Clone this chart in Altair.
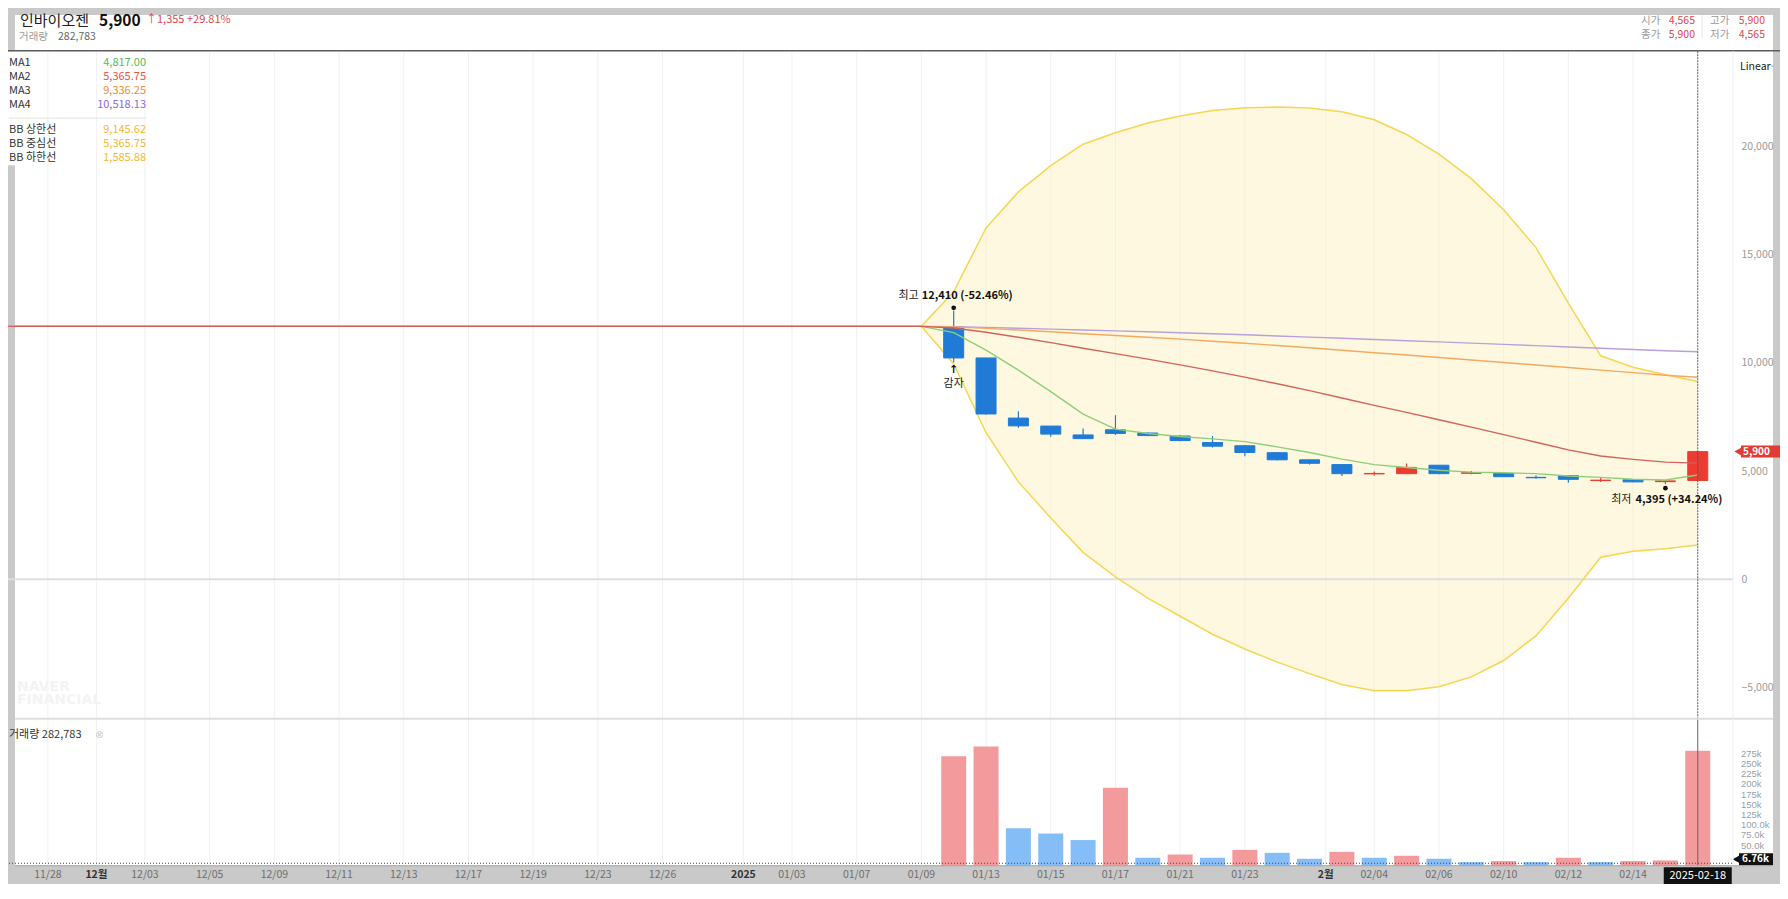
import altair as alt
import pandas as pd

FONT = "Noto Sans CJK KR"
RED = "#ec3b30"
BLUE = "#1f7bd6"
VRED = "#f39a9c"
VBLUE = "#85bdf6"

# ---------------- data ----------------
stock_name = "인바이오젠"
last_price = "5,900"
change_text = "↑1,355 +29.81%"
volume_text = "282,783"
ohlc_labels = [["시가", "4,565", "고가", "5,900"], ["종가", "5,900", "저가", "4,565"]]

FLAT = 11690                       # price level during the trading halt
halt_days = list(range(-2, 28))    # trading-day index of halted days
trade_days = list(range(28, 52))   # 01/10 .. 02/18
trade_dates = ["01/10", "01/13", "01/14", "01/15", "01/16", "01/17", "01/20", "01/21",
               "01/22", "01/23", "01/24", "01/31", "02/03", "02/04", "02/05", "02/06",
               "02/07", "02/10", "02/11", "02/12", "02/13", "02/14", "02/17", "02/18"]
opens = [11670, 10230, 7450, 7080, 6670, 6910, 6760, 6620, 6320, 6170, 5850, 5520,
         5300, 4870, 4880, 5270, 4900, 4890, 4710, 4790, 4560, 4600, 4510, 4565]
closes = [10230, 7640, 7090, 6710, 6500, 6740, 6640, 6410, 6150, 5860, 5520, 5360,
          4880, 4890, 5170, 4880, 4920, 4740, 4690, 4620, 4580, 4500, 4545, 5900]
highs = [12410, 10230, 7760, 7080, 6970, 7580, 6780, 6670, 6620, 6210, 5880, 5520,
         5300, 4980, 5350, 5270, 5000, 4890, 4800, 4790, 4710, 4600, 4580, 5900]
lows = [10030, 7600, 7000, 6590, 6490, 6670, 6620, 6380, 6090, 5680, 5500, 5300,
        4770, 4800, 4880, 4850, 4850, 4740, 4650, 4460, 4500, 4480, 4395, 4565]
volumes = [269000, 293000, 92600, 79600, 63600, 192000, 20200, 28200, 20200, 39500,
           32300, 17800, 34700, 20200, 25100, 17800, 9600, 12100, 9600, 20200, 9600,
           12100, 13700, 282783]
volume_up = [1, 1, 0, 0, 0, 1, 0, 1, 0, 1, 0, 0, 1, 0, 1, 0, 0, 1, 0, 1, 0, 1, 1, 1]

ma1_trade = [11400, 10590, 9670, 8670, 7630, 6940, 6740, 6600, 6490, 6360, 6120, 5860,
             5555, 5300, 5165, 5035, 4950, 4920, 4880, 4770, 4710, 4625, 4585, 4817]
ma2_trade = [11617, 11415, 11185, 10936, 10676, 10429, 10176, 9912, 9635, 9344, 9035, 8719,
             8378, 8038, 7712, 7372, 7033, 6686, 6335, 5982, 5699, 5542, 5415, 5366]
ma3_trade = [11666, 11599, 11522, 11439, 11352, 11270, 11186, 11098, 11005, 10908, 10805,
             10700, 10586, 10473, 10365, 10251, 10138, 10022, 9906, 9788, 9669, 9550, 9431, 9336]
ma4_trade = [11678, 11644, 11606, 11564, 11521, 11480, 11438, 11394, 11348, 11300, 11248,
             11195, 11138, 11082, 11028, 10971, 10915, 10857, 10798, 10739, 10680, 10620,
             10561, 10518]
bb_up_trade = [13290, 16240, 17910, 19120, 20110, 20640, 21090, 21420, 21670, 21800, 21830,
               21790, 21610, 21240, 20560, 19650, 18520, 17080, 15330, 12760, 10330, 9800,
               9455, 9146]
bb_lo_trade = [9955, 6773, 4500, 2833, 1242, 106, -879, -1712, -2545, -3227, -3833, -4364,
               -4864, -5152, -5152, -4970, -4515, -3758, -2621, -879, 1015, 1288, 1409, 1586]

legend_ma_names = ["MA1", "MA2", "MA3", "MA4"]
legend_ma_values = ["4,817.00", "5,365.75", "9,336.25", "10,518.13"]
legend_bb_names = ["BB 상한선", "BB 중심선", "BB 하한선"]
legend_bb_values = ["9,145.62", "5,365.75", "1,585.88"]

xtick_pos = [0, 1.5, 3, 5, 7, 9, 11, 13, 15, 17, 19, 21.5, 23, 25, 27, 29, 31, 33, 35, 37,
             39.5, 41, 43, 45, 47, 49]
xtick_lab = ["11/28", "12월", "12/03", "12/05", "12/09", "12/11", "12/13", "12/17", "12/19",
             "12/23", "12/26", "2025", "01/03", "01/07", "01/09", "01/13", "01/15", "01/17",
             "01/21", "01/23", "2월", "02/04", "02/06", "02/10", "02/12", "02/14"]
xtick_bold = ["12월", "2025", "2월"]
price_ticks = [-5000, 0, 5000, 10000, 15000, 20000]
volume_ticks = [50000, 75000, 100000, 125000, 150000, 175000, 200000, 225000, 250000, 275000]
volume_tick_labels = ["50.0k", "75.0k", "100.0k", "125k", "150k", "175k", "200k", "225k",
                      "250k", "275k"]
cross_day = 51
cross_date = "2025-02-18"
cross_volume = 6760
cross_volume_text = "6.76k"
high_note = {"i": 28, "v": 12410, "a": "최고", "b": "12,410 (-52.46%)"}
low_note = {"i": 50, "v": 4395, "a": "최저", "b": "4,395 (+34.24%)"}

# ---------------- tables ----------------
n_halt = len(halt_days)
lines = pd.DataFrame({
    "i": halt_days + trade_days,
    "ma1": [FLAT] * n_halt + ma1_trade,
    "ma2": [FLAT] * n_halt + ma2_trade,
    "ma3": [FLAT] * n_halt + ma3_trade,
    "ma4": [FLAT] * n_halt + ma4_trade,
    "up": [FLAT] * n_halt + bb_up_trade,
    "lo": [FLAT] * n_halt + bb_lo_trade,
})
candles = pd.DataFrame({"i": trade_days, "d": trade_dates, "open": opens, "close": closes,
                        "high": highs, "low": lows})
candles["col"] = [RED if c >= o else BLUE for o, c in zip(opens, closes)]
vol = pd.DataFrame({"i": trade_days, "vol": volumes,
                    "col": [VRED if u else VBLUE for u in volume_up]})
ticks_df = pd.DataFrame({"p": xtick_pos, "lab": xtick_lab,
                         "b": [l in xtick_bold for l in xtick_lab]})
vticks_df = pd.DataFrame({"v": volume_ticks, "lab": volume_tick_labels})

# ---------------- geometry (reference px -> view px) ----------------
TOTAL_H = 876
K = TOTAL_H / 891.0


def U(X):
    return X - 15


def V(Y):
    return (Y - 8) * K


XS = alt.Scale(domain=[-1, 51], range=[0.55, 1682.75], nice=False, zero=False, padding=0)
PS = alt.Scale(domain=[-6500, 24000], range=[V(732), V(61)], nice=False, zero=False, padding=0)
VS = alt.Scale(domain=[0, 300000], range=[V(880.7), V(756.26)], nice=False, zero=False, padding=0)

PAXIS = alt.Axis(orient="right", offset=-32, values=price_ticks, domain=False,
                 ticks=False, tickSize=0, grid=False, labelPadding=0, labelAlign="left",
                 labelBaseline="middle", labelColor="#9a9a9a", labelFontSize=10.5,
                 labelFont=FONT, title=None, labelFlush=False, labelOverlap=False,
                 labelExpr="format(datum.value, ',')", zindex=2)


def X(f):
    return alt.X(f, type="quantitative", scale=XS, axis=None)


def PY(f):
    return alt.Y(f, type="quantitative", scale=PS, axis=PAXIS)


def VY(f):
    return alt.Y(f, type="quantitative", scale=VS, axis=None)


ONE = alt.Data(values=[{"z": 0}])


def T(s, Xp, Yp, size=11, color="#333", weight="normal", align="left", font=FONT):
    return alt.Chart(alt.Data(values=[{"t": s}])).mark_text(
        align=align, baseline="middle", fontSize=size, color=color, fontWeight=weight, font=font
    ).encode(x=alt.value(U(Xp)), y=alt.value(V(Yp)), text="t:N")


def HR(x1, x2, Yp, color, width=1):
    return alt.Chart(ONE).mark_rule(color=color, strokeWidth=width).encode(
        x=alt.value(U(x1)), x2=alt.value(U(x2)), y=alt.value(V(Yp)))


def VR(Xp, y1, y2, color, width=1):
    return alt.Chart(ONE).mark_rule(color=color, strokeWidth=width).encode(
        x=alt.value(U(Xp)), y=alt.value(V(y1)), y2=alt.value(V(y2)))


def BOX(x1, x2, y1, y2, color):
    return alt.Chart(ONE).mark_rect(color=color).encode(
        x=alt.value(U(x1)), x2=alt.value(U(x2)), y=alt.value(V(y1)), y2=alt.value(V(y2)))


# ---------------- price panel ----------------
paper = BOX(15, 1773, 15, 880, "white")
grid = alt.Chart(ticks_df).mark_rule(color="#f1f1f1", strokeWidth=1).encode(
    x=X("p"), y=alt.value(V(52)), y2=alt.value(V(880)))
bb_area = alt.Chart(lines).mark_area(color="#fcefb4", opacity=0.42).encode(
    x=X("i"), y=PY("lo"), y2=alt.Y2("up"))
zero_line = alt.Chart(pd.DataFrame({"v": [0]})).mark_rule(color="#dedede", strokeWidth=2).encode(
    x=alt.value(-15), x2=alt.value(U(1733)), y=PY("v"))


def line(field, color, width=1.4):
    return alt.Chart(lines).mark_line(color=color, strokeWidth=width).encode(x=X("i"), y=PY(field))


wick = alt.Chart(candles).mark_rule(strokeWidth=1.2).encode(
    x=X("i"), y=PY("low"), y2=alt.Y2("high"), color=alt.Color("col:N", scale=None))
body = alt.Chart(candles).mark_bar(size=20, strokeWidth=1).encode(
    x=X("i"), y=PY("open"), y2=alt.Y2("close"),
    color=alt.Color("col:N", scale=None), stroke=alt.Stroke("col:N", scale=None))

cross_df = pd.DataFrame({"i": [cross_day]})
cross_price = alt.Chart(cross_df).mark_rule(color="#555", strokeWidth=1, strokeDash=[2, 1]).encode(
    x=X("i"), y=alt.value(V(52)), y2=alt.value(V(731)))
cross_vol_v = alt.Chart(cross_df).mark_rule(color="#666", strokeWidth=1).encode(
    x=X("i"), y=alt.value(V(731)), y2=alt.value(V(880)))

hn = pd.DataFrame([high_note])
ln = pd.DataFrame([low_note])
gn = pd.DataFrame({"i": [trade_days[0]], "v": [lows[0]]})
notes = [
    alt.Chart(hn).mark_circle(color="#111", size=22, opacity=1, yOffset=-3).encode(x=X("i"), y=PY("v")),
    alt.Chart(hn).mark_text(align="right", baseline="middle", dx=-35, dy=-15, fontSize=11,
                            font=FONT, color="#222").encode(x=X("i"), y=PY("v"), text="a:N"),
    alt.Chart(hn).mark_text(align="left", baseline="middle", dx=-32, dy=-15, fontSize=11,
                            font=FONT, color="#111", fontWeight="bold").encode(x=X("i"), y=PY("v"), text="b:N"),
    alt.Chart(ln).mark_circle(color="#111", size=22, opacity=1, yOffset=4).encode(x=X("i"), y=PY("v")),
    alt.Chart(ln).mark_text(align="right", baseline="middle", dx=-34, dy=16, fontSize=11,
                            font=FONT, color="#222").encode(x=X("i"), y=PY("v"), text="a:N"),
    alt.Chart(ln).mark_text(align="left", baseline="middle", dx=-30, dy=16, fontSize=11,
                            font=FONT, color="#111", fontWeight="bold").encode(x=X("i"), y=PY("v"), text="b:N"),
    alt.Chart(gn).mark_text(align="center", baseline="middle", dy=8, fontSize=11, font="DejaVu Sans",
                            fontWeight="bold", color="#111", text="↑").encode(x=X("i"), y=PY("v")),
    alt.Chart(gn).mark_text(align="center", baseline="middle", dy=22, fontSize=11, font=FONT,
                            color="#222", text="감자").encode(x=X("i"), y=PY("v")),
]

tag_df = pd.DataFrame({"v": [closes[-1]], "t": [last_price]})
price_tag = [
    alt.Chart(tag_df).mark_rect(color="#e23b36", yOffset=-6, y2Offset=6).encode(
        x=alt.value(U(1741)), x2=alt.value(U(1790)), y=PY("v"), y2=alt.Y2("v")),
    alt.Chart(tag_df).mark_point(shape="triangle-left", filled=True, color="#e23b36", opacity=1,
                                 size=70).encode(x=alt.value(U(1738)), y=PY("v")),
    alt.Chart(tag_df).mark_text(align="left", baseline="middle", fontSize=10, fontWeight="bold",
                                font=FONT, color="white").encode(x=alt.value(U(1743)), y=PY("v"), text="t:N"),
]

price = alt.layer(
    grid, bb_area, zero_line,
    line("up", "#f6d651", 1.5), line("lo", "#f6d651", 1.5),
    wick, body,
    line("ma4", "#b9a0dc"), line("ma3", "#f3aa60"), line("ma1", "#8ccf78"), line("ma2", "#d2625a"),
    cross_price, *notes, *price_tag,
)

# ---------------- volume panel ----------------
vbars = alt.Chart(vol).mark_bar(size=25).encode(
    x=X("i"), y=VY("vol"), color=alt.Color("col:N", scale=None))
vlabels = alt.Chart(vticks_df).mark_text(align="left", baseline="middle", fontSize=9.5,
                                         color="#9aa0a8", font="Liberation Sans").encode(
    x=alt.value(U(1741)), y=VY("v"), text="lab:N")
cv_df = pd.DataFrame({"v": [cross_volume], "t": [cross_volume_text]})
vcross = alt.Chart(cv_df).mark_rule(color="#444", strokeWidth=1, strokeDash=[1, 2]).encode(
    x=alt.value(-15), x2=alt.value(U(1733)), y=VY("v"))
vtag = [
    alt.Chart(cv_df).mark_rect(color="#111", yOffset=-10, y2Offset=2).encode(
        x=alt.value(U(1739)), x2=alt.value(U(1773)), y=VY("v"), y2=alt.Y2("v")),
    alt.Chart(cv_df).mark_point(shape="triangle-left", filled=True, color="#111", opacity=1, size=60,
                                yOffset=-4).encode(x=alt.value(U(1736)), y=VY("v")),
    alt.Chart(cv_df).mark_text(align="left", baseline="middle", dy=-4, fontSize=10, fontWeight="bold",
                               font=FONT, color="white").encode(x=alt.value(U(1742)), y=VY("v"), text="t:N"),
]
volume = alt.layer(vbars, vlabels, vcross, cross_vol_v, *vtag)

# ---------------- x labels (trading-day positions) ----------------
xlab_norm = alt.Chart(ticks_df).transform_filter("!datum.b").mark_text(
    baseline="middle", fontSize=10.5, color="#6e6e6e", font=FONT).encode(
    x=X("p"), y=alt.value(V(890)), text="lab:N")
xlab_bold = alt.Chart(ticks_df).transform_filter("datum.b").mark_text(
    baseline="middle", fontSize=10.5, color="#333", fontWeight="bold", font=FONT).encode(
    x=X("p"), y=alt.value(V(890)), text="lab:N")
date_box = [
    alt.Chart(cross_df).mark_rect(color="#111", xOffset=-34, x2Offset=34).encode(
        x=X("i"), x2=alt.X2("i"), y=alt.value(V(882)), y2=alt.value(V(899))),
    alt.Chart(cross_df).mark_text(baseline="middle", fontSize=11, color="white", font=FONT,
                                  text=cross_date).encode(x=X("i"), y=alt.value(V(890.5))),
]

# ---------------- frame, header and legend texts ----------------
frame = [
    BOX(8, 15, 52, 168, "white"),
    HR(8, 1790, 51.5, "#5c5c5c", 1.5),
    HR(15, 1773, 731, "#dedede", 2),
    HR(15, 1773, 880.5, "#a8a8a8", 1),
    VR(1733, 52, 880, "#eeeeee"),
    VR(1702, 15, 39, "#e6e6e6"),
    HR(9, 146, 120, "#e2e2e2", 1),
]
header = [
    T(stock_name, 20, 21, 15, "#222"),
    T(last_price, 99, 21.5, 15.5, "#111", "bold"),
    T(change_text, 146, 20.5, 11, "#e0474c"),
    T("거래량", 19, 37.5, 10.5, "#9a9a9a"),
    T(volume_text, 58, 37.5, 10.5, "#666"),
    T("Linear", 1740, 68, 10.5, "#222"),
    T("˅", 1770, 70, 9, "#aaaaaa", font="DejaVu Sans"),
    T("NAVER", 17, 699, 14, "#f3f3f3", "bold", font="DejaVu Sans"),
    T("FINANCIAL", 17, 712, 14, "#f3f3f3", "bold", font="DejaVu Sans"),
    T("거래량 " + volume_text, 9, 747, 11, "#333"),
    T("⊗", 95, 747, 10, "#cccccc", font="DejaVu Sans"),
]
for r, row in enumerate(ohlc_labels):
    yy = 21.5 + 13.5 * r
    header += [T(row[0], 1641, yy, 10.5, "#9a9a9a"), T(row[1], 1695, yy, 10.5, "#e0474c", align="right"),
               T(row[2], 1710, yy, 10.5, "#9a9a9a"), T(row[3], 1765, yy, 10.5, "#e0474c", align="right")]
ma_cols = ["#5cb85c", "#e5534b", "#f08c3a", "#8c6bd6"]
for k, (nm, vv) in enumerate(zip(legend_ma_names, legend_ma_values)):
    yy = 64 + 14.2 * k
    header += [T(nm, 9, yy, 11, "#333"), T(vv, 146, yy, 11, ma_cols[k], align="right")]
for k, (nm, vv) in enumerate(zip(legend_bb_names, legend_bb_values)):
    yy = 132.5 + 14 * k
    header += [T(nm, 9, yy, 11, "#333"), T(vv, 146, yy, 11, "#f2b935", align="right")]

chart = alt.layer(
    paper, price, volume, xlab_norm, xlab_bold, *date_box, *frame, *header
).resolve_scale(y="independent").properties(
    width=1758, height=TOTAL_H,
    autosize=alt.AutoSizeParams(type="none"),
    padding={"left": 7, "top": 0, "right": 7, "bottom": 0},
    background="#c9c9c9",
).configure(font=FONT).configure_view(strokeWidth=0)

chart.save("out.html", embed_options={"renderer": "svg", "actions": False})
